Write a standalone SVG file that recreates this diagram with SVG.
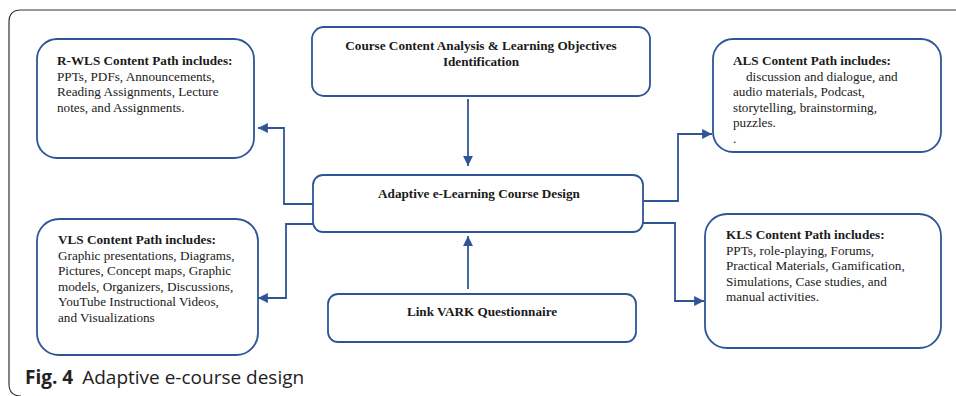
<svg xmlns="http://www.w3.org/2000/svg" width="956" height="396" viewBox="0 0 956 396">
<defs>
<style>
.box{fill:#fff;stroke:#2f5597;stroke-width:1.8}
.con{fill:none;stroke:#2f5597;stroke-width:1.8}
.t{font-family:"Liberation Serif","Times New Roman",serif;font-size:13.2px;fill:#1a1a1a}
.b{font-weight:bold}
.cap{font-family:"Open Sans","Noto Sans",sans-serif;font-size:19px;fill:#222}
</style>
<marker id="ah" viewBox="0 0 10 10" refX="10" refY="5" markerWidth="5.5" markerHeight="5.5" orient="auto" markerUnits="strokeWidth">
<path d="M0,0 L10,5 L0,10 z" fill="#2f5597"/>
</marker>
</defs>
<rect width="956" height="396" fill="#fff"/>
<path d="M960,10 H21 Q9,10 9,22 V384 Q9,396 21,396" fill="none" stroke="#333" stroke-width="1.2"/>

<g id="top">
<rect class="box" x="312" y="27" width="338" height="69" rx="12"/>
<text class="t b" x="481" y="50" text-anchor="middle">Course Content Analysis &amp; Learning Objectives</text>
<text class="t b" x="481" y="66" text-anchor="middle">Identification</text>
</g>

<g id="adaptive">
<rect class="box" x="313" y="175" width="330" height="57" rx="10"/>
<text class="t b" x="479" y="198" text-anchor="middle">Adaptive e-Learning Course Design</text>
</g>

<g id="vark">
<rect class="box" x="328" y="294" width="308" height="48" rx="10"/>
<text class="t b" x="482" y="316" text-anchor="middle">Link VARK Questionnaire</text>
</g>

<g id="rwls">
<rect class="box" x="37" y="39" width="217" height="119" rx="20"/>
<text class="t" x="57" y="65"><tspan class="b">R-WLS Content Path includes:</tspan><tspan x="57" dy="15.5">PPTs, PDFs, Announcements,</tspan><tspan x="57" dy="15.5">Reading Assignments, Lecture</tspan><tspan x="57" dy="15.5">notes, and Assignments.</tspan></text>
</g>

<g id="vls">
<rect class="box" x="37" y="219" width="221" height="136" rx="22"/>
<text class="t" x="58" y="244"><tspan class="b">VLS Content Path includes:</tspan><tspan x="58" dy="15.6">Graphic presentations, Diagrams,</tspan><tspan x="58" dy="15.6">Pictures, Concept maps, Graphic</tspan><tspan x="58" dy="15.6">models, Organizers, Discussions,</tspan><tspan x="58" dy="15.6">YouTube Instructional Videos,</tspan><tspan x="58" dy="15.6">and Visualizations</tspan></text>
</g>

<g id="als">
<rect class="box" x="713" y="39" width="228" height="113" rx="20"/>
<text class="t" x="733" y="65"><tspan class="b">ALS Content Path includes:</tspan><tspan x="746" dy="15.6">discussion and dialogue, and</tspan><tspan x="733" dy="15.6">audio materials, Podcast,</tspan><tspan x="733" dy="15.6">storytelling, brainstorming,</tspan><tspan x="733" dy="15.6">puzzles.</tspan><tspan x="733" dy="15.6">.</tspan></text>
</g>

<g id="kls">
<rect class="box" x="705" y="214" width="236" height="134" rx="22"/>
<text class="t" x="726" y="239"><tspan class="b">KLS Content Path includes:</tspan><tspan x="726" dy="15.6">PPTs, role-playing, Forums,</tspan><tspan x="726" dy="15.6">Practical Materials, Gamification,</tspan><tspan x="726" dy="15.6">Simulations, Case studies, and</tspan><tspan x="726" dy="15.6">manual activities.</tspan></text>
</g>

<g id="connectors">
<path class="con" d="M468,99 V166" marker-end="url(#ah)"/>
<path class="con" d="M468,289 V236" marker-end="url(#ah)"/>
<path class="con" d="M313,204 H284 V128 H258" marker-end="url(#ah)"/>
<path class="con" d="M313,224 H286 V298 H258" marker-end="url(#ah)"/>
<path class="con" d="M643,201 H678 V134 H712" marker-end="url(#ah)"/>
<path class="con" d="M643,223 H675 V301 H704" marker-end="url(#ah)"/>
</g>

<text class="cap" x="25" y="384"><tspan font-weight="bold">Fig. 4</tspan><tspan dx="9">Adaptive e-course design</tspan></text>
</svg>
